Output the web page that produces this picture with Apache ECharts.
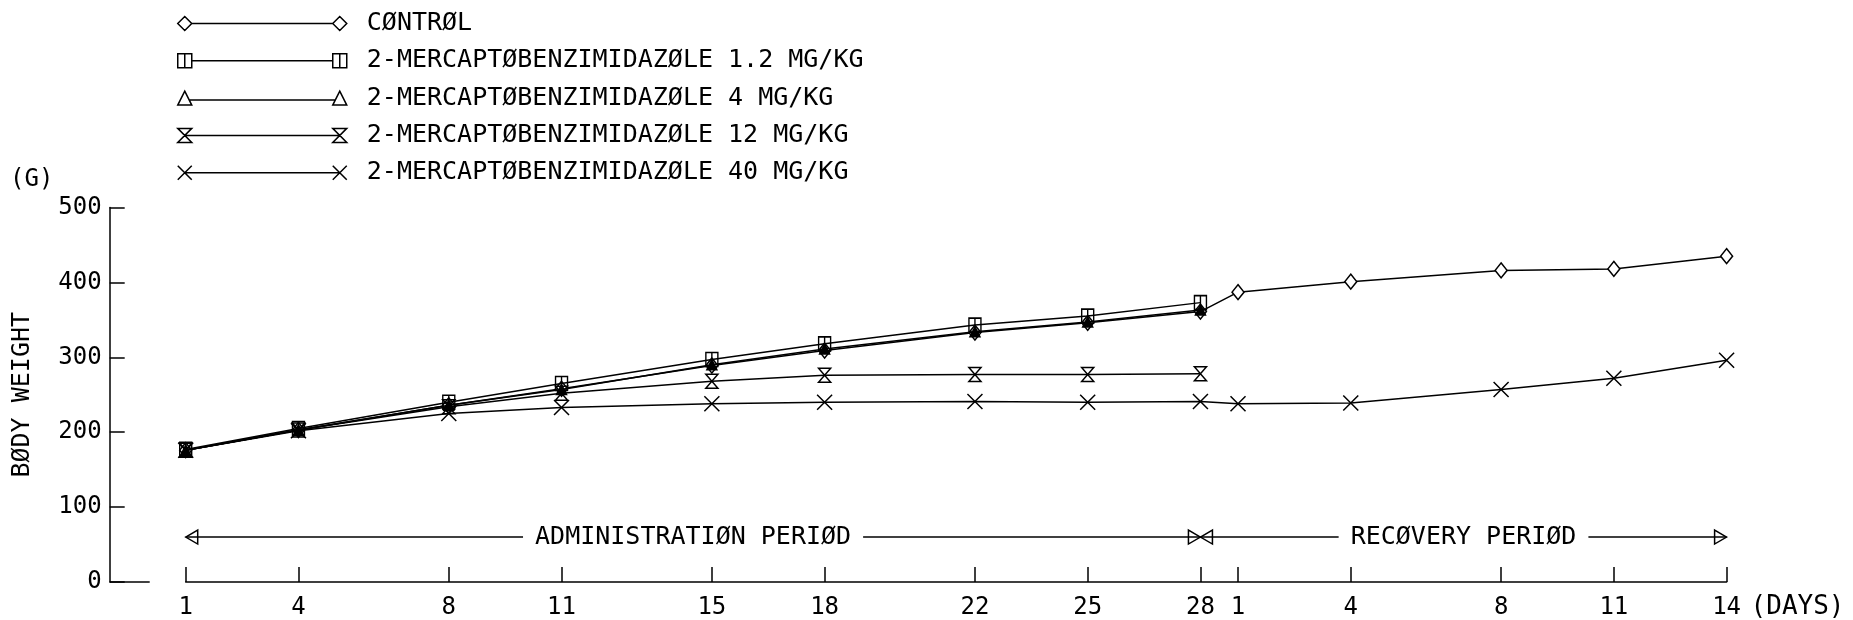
<!DOCTYPE html>
<html>
<head>
<meta charset="utf-8">
<script src="https://cdn.jsdelivr.net/npm/echarts@6/dist/echarts.min.js"></script>
<style>
html,body{margin:0;padding:0;background:#fff}
#c{width:1853px;height:620px}
</style>
</head>
<body>
<div id="c"></div>
<script>
// ---------------- data ----------------
const adminDays = [1, 4, 8, 11, 15, 18, 22, 25, 28];
const recoveryDays = [1, 4, 8, 11, 14];
const seriesNames = [
  'CØNTRØL',
  '2-MERCAPTØBENZIMIDAZØLE 1.2 MG/KG',
  '2-MERCAPTØBENZIMIDAZØLE 4 MG/KG',
  '2-MERCAPTØBENZIMIDAZØLE 12 MG/KG',
  '2-MERCAPTØBENZIMIDAZØLE 40 MG/KG'
];
const controlAdmin = [176, 203, 236, 258, 289, 309, 333, 346, 361];
const controlRecovery = [387, 401, 416, 418, 435];
const mbi1p2Admin = [177, 205, 240, 265, 297, 318, 343, 355, 373];
const mbi4Admin = [176, 203, 236, 257, 290, 311, 334, 347, 363];
const mbi12Admin = [176, 203, 234, 252, 268, 276, 277, 277, 278];
const mbi40Admin = [176, 202, 225, 233, 238, 240, 241, 240, 241];
const mbi40Recovery = [238, 239, 257, 272, 296];
const yTicks = [0, 100, 200, 300, 400, 500];
const periodLabels = ['ADMINISTRATIØN PERIØD', 'RECØVERY PERIØD'];
const periodLevel = 60;
const yAxisName = 'BØDY WEIGHT';
const yUnit = '(G)';
const xUnit = '(DAYS)';

// ---------------- layout helpers ----------------
const FONT = 'DejaVu Sans Mono';
const ADMIN_END = adminDays[adminDays.length - 1];
const xAdmin = adminDays.slice();
const xRec = recoveryDays.map(d => ADMIN_END + d);
const tickPos = xAdmin.concat(xRec);
const pairs = (xs, ys) => ys.map((y, i) => [xs[i], y]);
const Y_OFFSET = 76;

const icons = [
  'path://M7,0L14,7L7,14L0,7ZM14,7H155M162,0L169,7L162,14L155,7Z',
  'path://M0,0H14V14H0ZM7,0V14M14,7H155M155,0H169V14H155ZM162,0V14',
  'path://M7,0L14,14L0,14ZM11,9H158M162,0L169,14L155,14Z',
  'path://M0,0H14L0,14H14ZM7,7H162M155,0H169L155,14H169Z',
  'path://M0,0L14,14M14,0L0,14M7,7H162M155,0L169,14M169,0L155,14'
];

const symbols = [
  {symbol: 'diamond', size: [12, 15], fill: '#fff'},
  {symbol: 'path://M0,0H10V10H0ZM5,0V10', size: [12, 14], fill: 'rgba(0,0,0,0)'},
  {symbol: 'triangle', size: [10, 10], fill: '#000'},
  {symbol: 'path://M0,0H10L0,10H10Z', size: [12, 14], fill: 'rgba(0,0,0,0)'},
  {symbol: 'path://M0,0L10,10M10,0L0,10', size: [15, 15], fill: 'rgba(0,0,0,0)'}
];

const seriesData = [
  pairs(xAdmin, controlAdmin).concat(pairs(xRec, controlRecovery)),
  pairs(xAdmin, mbi1p2Admin),
  pairs(xAdmin, mbi4Admin),
  pairs(xAdmin, mbi12Admin),
  pairs(xAdmin, mbi40Admin).concat(pairs(xRec, mbi40Recovery))
];

const chart = echarts.init(document.getElementById('c'), null, {renderer: 'canvas'});

const option = {
  animation: false,
  backgroundColor: '#fff',
  textStyle: {fontFamily: FONT, color: '#000'},
  grid: {left: 185.7, right: 126.4, top: 207.5, bottom: 33},
  legend: {
    show: true,
    orient: 'vertical',
    left: 172,
    top: 6,
    itemWidth: 169,
    itemHeight: 14,
    itemGap: 12.3,
    selectedMode: false,
    data: seriesNames.map((n, i) => ({name: n, icon: icons[i]})),
    formatter: n => ' ' + n,
    textStyle: {fontFamily: FONT, fontSize: 25, color: '#000', lineHeight: 24},
    itemStyle: {color: 'rgba(0,0,0,0)', borderColor: '#000', borderWidth: 1.5}
  },
  xAxis: {
    type: 'value',
    min: tickPos[0],
    max: tickPos[tickPos.length - 1],
    axisLine: {show: true, onZero: false, lineStyle: {color: '#000', width: 1.5}},
    axisTick: {show: true, inside: true, length: 15, customValues: tickPos,
      lineStyle: {color: '#000', width: 1.5}},
    axisLabel: {
      customValues: tickPos,
      formatter: v => String(v > ADMIN_END ? v - ADMIN_END : v),
      margin: 14,
      fontFamily: FONT, fontSize: 24, color: '#000'
    },
    splitLine: {show: false},
    name: xUnit,
    nameLocation: 'end',
    nameGap: 24,
    nameTextStyle: {fontFamily: FONT, fontSize: 26, color: '#000',
      align: 'left', verticalAlign: 'top', padding: [12, 0, 0, 0]}
  },
  yAxis: {
    type: 'value',
    min: yTicks[0],
    max: yTicks[yTicks.length - 1],
    interval: yTicks[1] - yTicks[0],
    offset: Y_OFFSET,
    axisLine: {show: true, lineStyle: {color: '#000', width: 1.5}},
    axisTick: {show: true, inside: true, length: 15, lineStyle: {color: '#000', width: 1.5}},
    axisLabel: {margin: 8, fontFamily: FONT, fontSize: 24, color: '#000'},
    splitLine: {show: false},
    name: yAxisName,
    nameLocation: 'middle',
    nameRotate: 90,
    nameGap: 75,
    nameTextStyle: {fontFamily: FONT, fontSize: 25, color: '#000'}
  },
  series: seriesNames.map((n, i) => ({
    name: n,
    type: 'line',
    data: seriesData[i],
    symbol: symbols[i].symbol,
    symbolSize: symbols[i].size,
    showAllSymbol: true,
    lineStyle: {color: '#000', width: 1.5},
    itemStyle: {color: symbols[i].fill, borderColor: '#000', borderWidth: 1.5},
    emphasis: {disabled: true},
    z: 2 + i
  }))
};

chart.setOption(option);

// ---------------- annotations (positioned through the chart's scales) ----------------
const px = (x, y) => chart.convertToPixel({gridIndex: 0}, [x, y]);
const g = [];
const periods = [[xAdmin[0], ADMIN_END], [ADMIN_END, xRec[xRec.length - 1]]];
periods.forEach((pr, i) => {
  const [xa, yy] = px(pr[0], periodLevel);
  const [xb] = px(pr[1], periodLevel);
  g.push({type: 'line', shape: {x1: xa, y1: yy, x2: xb, y2: yy},
    style: {stroke: '#000', lineWidth: 1.5}, z: 10});
  g.push({type: 'polygon', shape: {points: [[xa, yy], [xa + 12, yy - 7], [xa + 12, yy + 7]]},
    style: {fill: 'none', stroke: '#000', lineWidth: 1.5}, z: 11});
  g.push({type: 'polygon', shape: {points: [[xb, yy], [xb - 12, yy - 7], [xb - 12, yy + 7]]},
    style: {fill: 'none', stroke: '#000', lineWidth: 1.5}, z: 11});
  g.push({type: 'text', x: (xa + xb) / 2, y: yy, z: 12,
    style: {text: periodLabels[i], fontFamily: FONT, fontSize: 25, fill: '#000',
      align: 'center', verticalAlign: 'middle', backgroundColor: '#fff', padding: [2, 12]}});
});
// short base segment at the foot of the y axis
const [x0, y0] = px(tickPos[0], yTicks[0]);
g.push({type: 'line', shape: {x1: x0 - Y_OFFSET, y1: y0, x2: x0 - Y_OFFSET + 40, y2: y0},
  style: {stroke: '#000', lineWidth: 1.5}, z: 10});
// unit label above the y axis
const [, yTop] = px(tickPos[0], yTicks[yTicks.length - 1]);
g.push({type: 'text', x: 10, y: yTop - 28, z: 12,
  style: {text: yUnit, fontFamily: FONT, fontSize: 24, fill: '#000',
    align: 'left', verticalAlign: 'middle'}});

chart.setOption({graphic: {elements: g}});
</script>
</body>
</html>
